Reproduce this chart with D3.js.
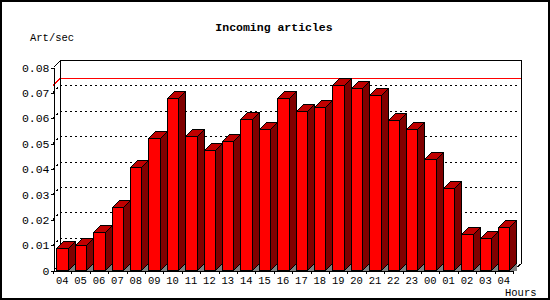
<!DOCTYPE html>
<html lang="en">
<head>
  <meta charset="UTF-8">
  <title>Incoming articles</title>
  <style>
    body { margin: 0; padding: 0; background: #fff; }
    svg { display: block; shape-rendering: crispEdges; }
    text { font-family: 'Liberation Mono', 'DejaVu Sans Mono', monospace; fill: #000; }
    .grid { fill: none; stroke: #000; stroke-width: 1px; stroke-dasharray: 2,3; }
    .frame { fill: none; stroke: #000; stroke-width: 1px; }
    .bar path { stroke: #000; stroke-width: 1px; stroke-linejoin: miter; }
  </style>
</head>
<body>
  <svg width="550" height="300"></svg>

  <script src="https://d3js.org/d3.v7.min.js"></script>
  <script>
    // values
    const hours = ["04","05","06","07","08","09","10","11","12","13","14","15","16",
                   "17","18","19","20","21","22","23","00","01","02","03","04"];
    const artPerSec = [0.0085, 0.0097, 0.0149, 0.0247, 0.0405, 0.0519, 0.0677, 0.0528,
                       0.0474, 0.0508, 0.0594, 0.0554, 0.0677, 0.0625, 0.0641, 0.0728,
                       0.0716, 0.0688, 0.0590, 0.0554, 0.0436, 0.0322, 0.0141, 0.0125, 0.0168];
    const yTicks = [0, 0.01, 0.02, 0.03, 0.04, 0.05, 0.06, 0.07, 0.08];

    const svg = d3.select("svg");
    const depth = 7;
    const pLeft = 53, pRight = 513, pBottom = 270, pTop = 67;
    const mono = "'Liberation Mono', 'DejaVu Sans Mono', monospace";

    const x = d3.scaleBand()
      .domain(d3.range(hours.length))
      .range([pLeft, pRight]);
    const y = d3.scaleLinear()
      .domain([0, 0.08])
      .range([pBottom, pTop]);

    const bw = x.bandwidth();
    const off = bw * 0.185, fw = bw * 0.62;

    // outer frame
    svg.append("rect")
      .attr("x", 0.5).attr("y", 0.5)
      .attr("width", 548).attr("height", 298)
      .attr("fill", "none").attr("stroke", "#000").attr("stroke-width", 2);

    // titles
    svg.append("text")
      .attr("x", 274).attr("y", 31)
      .attr("text-anchor", "middle")
      .attr("font-family", "'DejaVu Sans Mono', monospace")
      .attr("font-size", "11.5px").attr("font-weight", "bold")
      .text("Incoming articles");
    svg.append("text")
      .attr("x", 30).attr("y", 40.5)
      .attr("font-size", "10.5px")
      .text("Art/sec");
    svg.append("text")
      .attr("x", 505).attr("y", 296)
      .attr("font-size", "10.5px")
      .text("Hours");

    const g = svg.append("g");

    // dotted grid on the back wall
    g.selectAll(".grid")
      .data(yTicks.filter(t => t > 0 && t < 0.08))
      .enter().append("path")
      .attr("class", "grid")
      .attr("d", t => {
        const yy = Math.round(y(t)) + 0.5;
        return `M${pLeft},${yy}L${pLeft + depth},${yy - depth}L${pRight + 4},${yy - depth}`;
      });

    // max line
    const maxV = d3.max(artPerSec);
    const ym = Math.round(y(maxV)) + 0.5;
    g.append("path")
      .attr("fill", "none").attr("stroke", "#f00")
      .attr("d", `M${pLeft},${ym}L${pLeft + depth},${ym - depth}L${pRight + depth + 1},${ym - depth}`);

    // back wall and floor edges
    const bx = pLeft + depth + 0.5, by = Math.round(pTop) - depth + 0.5;
    const rx = pRight + depth + 1.5;
    g.append("path")
      .attr("class", "frame")
      .attr("d", `M${pLeft + 0.5},${Math.round(pTop) + 0.5}L${bx},${by}L${rx},${by}L${rx},${pBottom - depth + 0.5}L${pRight},${pBottom + 0.5}`);
    g.append("path")
      .attr("class", "frame")
      .attr("d", `M${bx},${by}L${bx},${pBottom - depth + 0.5}M${pLeft + 0.5},${pBottom + 0.5}L${bx},${pBottom - depth + 0.5}`);

    // bars
    const bars = g.selectAll(".bar")
      .data(artPerSec)
      .enter().append("g")
      .attr("class", "bar");

    bars.each(function(v, i) {
      const b = d3.select(this);
      const xl = Math.round(x(i) + off) + 0.5;
      const xr = Math.round(x(i) + off + fw) + 0.5;
      const yt = Math.round(y(v)) + 0.5;
      const yb = pBottom + 0.5;
      // floor shadow
      b.append("path").attr("fill", "#808080").style("stroke", "none")
        .attr("d", `M${xr},${yb}L${xr + depth},${yb - depth}L${xr + depth},${yb}Z`);
      // side
      b.append("path").attr("fill", "#800000")
        .attr("d", `M${xr},${yt}L${xr + depth},${yt - depth}L${xr + depth},${yb - depth}L${xr},${yb}Z`);
      // top
      b.append("path").attr("fill", "#c00000")
        .attr("d", `M${xl},${yt}L${xl + depth},${yt - depth}L${xr + depth},${yt - depth}L${xr},${yt}Z`);
      // front
      b.append("path").attr("fill", "#ff0000")
        .attr("d", `M${xl},${yt}L${xr},${yt}L${xr},${yb}L${xl},${yb}Z`);
    });

    // y axis
    const yAxis = g.append("g")
      .attr("transform", `translate(${pLeft + 0.5},0.5)`)
      .call(d3.axisLeft(y)
        .tickValues(yTicks)
        .tickSize(3)
        .tickSizeOuter(0)
        .tickPadding(1)
        .tickFormat(d => d === 0 ? "0" : d3.format(".2f")(d)));
    yAxis.selectAll("text").attr("font-size", "11.5px").attr("font-family", mono);
    yAxis.selectAll("line, path").attr("stroke", "#000");

    // x axis
    const xAxis = g.append("g")
      .attr("transform", `translate(0,${pBottom + 0.5})`)
      .call(d3.axisBottom(x)
        .tickSize(0)
        .tickSizeOuter(0)
        .tickPadding(6)
        .tickFormat(i => hours[i]));
    xAxis.select(".domain").attr("stroke", "#000");
    xAxis.selectAll("text").attr("font-size", "10.5px").attr("font-family", mono);

    xAxis.selectAll(".bound")
      .data(d3.range(hours.length + 1))
      .enter().append("line")
      .attr("class", "bound")
      .attr("stroke", "#000")
      .attr("x1", k => Math.round(pLeft + k * bw) + 0.5)
      .attr("x2", k => Math.round(pLeft + k * bw) + 0.5)
      .attr("y1", 0).attr("y2", 3);
  </script>
</body>
</html>
